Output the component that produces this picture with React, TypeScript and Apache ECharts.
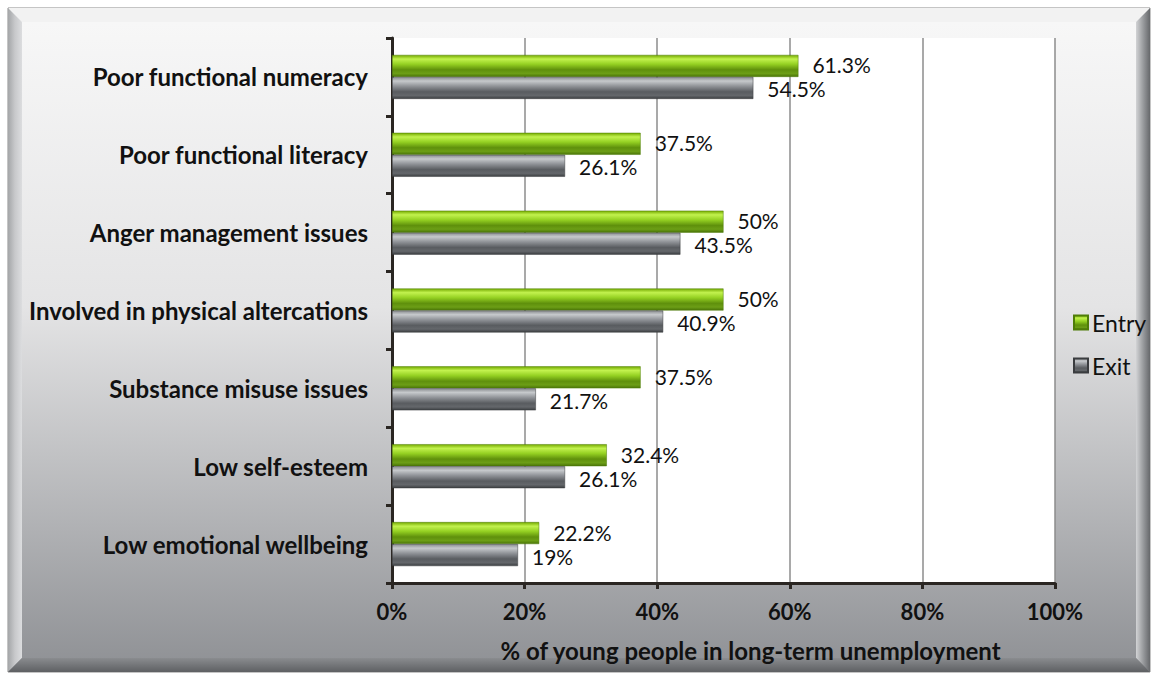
import React, { useEffect, useRef } from "react";
import * as echarts from "echarts";

const categories = [
  "Poor functional numeracy",
  "Poor functional literacy",
  "Anger management issues",
  "Involved in physical altercations",
  "Substance misuse issues",
  "Low self-esteem",
  "Low emotional wellbeing",
];
const entryValues = [61.3, 37.5, 50, 50, 37.5, 32.4, 22.2];
const exitValues = [54.5, 26.1, 43.5, 40.9, 21.7, 26.1, 19];
const xTicks = [0, 20, 40, 60, 80, 100];
const seriesNames = ["Entry", "Exit"];
const axisTitle = "% of young people in long-term unemployment";

const FONT = "Lato, 'Open Sans', sans-serif";

const vgrad = (stops: [number, string][]) =>
  new echarts.graphic.LinearGradient(
    0,
    0,
    0,
    1,
    stops.map(([offset, color]) => ({ offset, color }))
  );

export default function App() {
  const ref = useRef<HTMLDivElement>(null);
  useEffect(() => {
    if (!ref.current) return;
    const chart = echarts.init(ref.current, undefined, { renderer: "svg" });
    const W = 1157;
    const H = 677;
    const L = 8,
      T = 8,
      R = 1150,
      B = 672,
      bv = 14;
    const greenGrad = vgrad([
      [0, "#74aa00"],
      [0.18, "#c2f24e"],
      [0.42, "#94d022"],
      [0.68, "#5f900c"],
      [0.85, "#6c9e16"],
      [1, "#4a7508"],
    ]);
    const grayGrad = vgrad([
      [0, "#8a8d91"],
      [0.18, "#c6c9cc"],
      [0.42, "#8f9297"],
      [0.68, "#595c60"],
      [0.85, "#64676b"],
      [1, "#3c3f42"],
    ]);
    chart.setOption({
      animation: false,
      textStyle: { fontFamily: FONT },
      graphic: [
        {
          type: "rect",
          z: -10,
          silent: true,
          shape: { x: L, y: T, width: R - L, height: B - T },
          style: {
            fill: vgrad([
              [0, "#f8f8f8"],
              [0.45, "#e4e4e5"],
              [1, "#8e9094"],
            ]),
            stroke: "#8a8a8a",
            lineWidth: 1,
          },
        },
        {
          type: "polygon",
          z: -9,
          silent: true,
          shape: { points: [[L, T], [R, T], [R - bv, T + bv], [L + bv, T + bv]] },
          style: { fill: "#f2f2f2" },
        },
        {
          type: "polygon",
          z: -9,
          silent: true,
          shape: { points: [[L, T], [L + bv, T + bv], [L + bv, B - bv], [L, B]] },
          style: {
            fill: new echarts.graphic.LinearGradient(0, 0, 1, 0, [
              { offset: 0, color: "#a4a6a8" },
              { offset: 0.5, color: "#c8c9cb" },
              { offset: 1, color: "#dcdddf" },
            ]),
          },
        },
        {
          type: "polygon",
          z: -9,
          silent: true,
          shape: { points: [[R, T], [R - bv, T + bv], [R - bv, B - bv], [R, B]] },
          style: {
            fill: new echarts.graphic.LinearGradient(0, 0, 1, 0, [
              { offset: 0, color: "#d2d3d5" },
              { offset: 0.5, color: "#9a9c9f" },
              { offset: 1, color: "#66686b" },
            ]),
          },
        },
        {
          type: "polygon",
          z: -9,
          silent: true,
          shape: { points: [[L + bv, B - bv], [R - bv, B - bv], [R, B], [L, B]] },
          style: {
            fill: vgrad([
              [0, "#8a8c8f"],
              [1, "#5e6063"],
            ]),
          },
        },
        {
          type: "rect",
          z: -8,
          silent: true,
          shape: { x: 392, y: 38, width: 663, height: 545 },
          style: { fill: "#ffffff" },
        },
      ],
      grid: {
        left: 392,
        right: W - 1055,
        top: 38,
        bottom: H - 583,
        containLabel: false,
      },
      legend: {
        orient: "vertical",
        left: 1068,
        top: 306,
        itemWidth: 14,
        itemHeight: 14,
        itemGap: 20,
        icon: "rect",
        data: seriesNames,
        textStyle: { fontSize: 23, color: "#111", fontFamily: FONT, padding: [0, 0, 0, -1] },
      },
      xAxis: {
        type: "value",
        min: 0,
        max: 100,
        interval: 20,
        axisLine: { show: true, lineStyle: { color: "#2a2622", width: 3 } },
        axisTick: { show: true, length: 6, lineStyle: { color: "#2a2622", width: 3 } },
        splitLine: { show: true, lineStyle: { color: "#8c8c8c", width: 1.5 } },
        axisLabel: {
          formatter: (v: number) => (xTicks.includes(v) ? v + "%" : ""),
          fontSize: 22,
          fontWeight: "bold",
          color: "#111",
          margin: 17,
          fontFamily: FONT,
        },
        name: axisTitle,
        nameLocation: "middle",
        nameGap: 55,
        nameTextStyle: {
          fontSize: 24,
          fontWeight: "bold",
          color: "#111",
          fontFamily: FONT,
          padding: [0, 0, 0, 54],
        },
      },
      yAxis: {
        type: "category",
        data: categories,
        inverse: true,
        axisLine: { show: true, lineStyle: { color: "#2a2622", width: 3 } },
        axisTick: { show: true, length: 6, lineStyle: { color: "#2a2622", width: 3 } },
        axisLabel: {
          fontSize: 24,
          fontWeight: "bold",
          color: "#111",
          margin: 24,
          fontFamily: FONT,
          padding: [0, 0, 4, 0],
        },
      },
      series: [
        {
          name: seriesNames[0],
          type: "bar",
          data: entryValues,
          barWidth: 22,
          barGap: "0%",
          itemStyle: { color: greenGrad, borderColor: "#4f7d08", borderWidth: 0.5 },
          label: {
            show: true,
            position: "right",
            distance: 14,
            formatter: (p: any) => p.value + "%",
            fontSize: 21,
            color: "#111",
            fontFamily: FONT,
            offset: [0, -1],
          },
        },
        {
          name: seriesNames[1],
          type: "bar",
          data: exitValues,
          barWidth: 22,
          itemStyle: { color: grayGrad, borderColor: "#3a3c3f", borderWidth: 0.5 },
          label: {
            show: true,
            position: "right",
            distance: 14,
            formatter: (p: any) => p.value + "%",
            fontSize: 21,
            color: "#111",
            fontFamily: FONT,
            offset: [0, 1],
          },
        },
      ],
    });
    return () => chart.dispose();
  }, []);
  return (
    <div
      ref={ref}
      style={{ position: "fixed", left: 0, top: 0, width: 1157, height: 677, background: "#fff" }}
    />
  );
}
